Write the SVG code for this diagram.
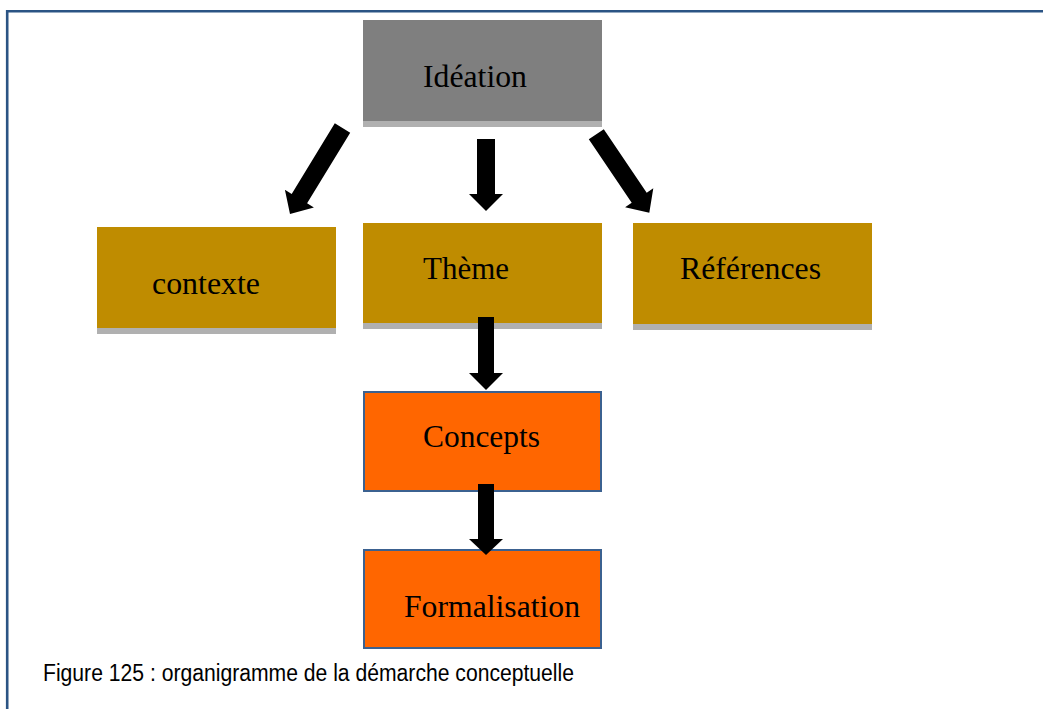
<svg xmlns="http://www.w3.org/2000/svg" width="1043" height="709" viewBox="0 0 1043 709">
<style>
.lbl{font-family:"Liberation Serif","Times New Roman",serif;font-size:31px;fill:#000}
.gold{fill:#bf8c00}
.shadow{fill:#b0b0b0}
.orange{fill:#ff6600;stroke:#3b6190;stroke-width:2}
.arrow{fill:#000}
.cap{font-family:"Liberation Sans",Arial,sans-serif;font-size:23px;fill:#000}
</style>
<rect x="0" y="0" width="1043" height="709" fill="#fff"/>
<path d="M7.2,720 V11.3 H1050" fill="none" stroke="#2b5484" stroke-width="2.6"/>
<g id="ideation">
<rect x="363" y="121" width="239" height="6" class="shadow"/>
<rect x="363" y="20" width="239" height="101" fill="#7f7f7f"/>
<text class="lbl" x="423" y="87" textLength="104" lengthAdjust="spacingAndGlyphs">Idéation</text>
</g>
<g id="contexte">
<rect x="97" y="328" width="239" height="6" class="shadow"/>
<rect x="97" y="227" width="239" height="101" class="gold"/>
<text class="lbl" x="152" y="294" textLength="108" lengthAdjust="spacingAndGlyphs">contexte</text>
</g>
<g id="theme">
<rect x="363" y="323" width="239" height="6" class="shadow"/>
<rect x="363" y="223" width="239" height="100" class="gold"/>
<text class="lbl" x="423" y="279" textLength="86" lengthAdjust="spacingAndGlyphs">Thème</text>
</g>
<g id="references">
<rect x="633" y="324" width="239" height="6" class="shadow"/>
<rect x="633" y="223" width="239" height="101" class="gold"/>
<text class="lbl" x="680" y="279" textLength="141" lengthAdjust="spacingAndGlyphs">Références</text>
</g>
<g id="concepts">
<rect x="364" y="392" width="237" height="99" class="orange"/>
<text class="lbl" x="423" y="447" textLength="117" lengthAdjust="spacingAndGlyphs">Concepts</text>
</g>
<g id="formalisation">
<rect x="364" y="550" width="237" height="98" class="orange"/>
<text class="lbl" x="404" y="617" textLength="176" lengthAdjust="spacingAndGlyphs">Formalisation</text>
</g>
<g id="connectors">
<polygon class="arrow" points="334.8,123.3 350.2,132.7 307.1,203.3 313.9,207.5 290,214 284.9,189.7 291.7,193.9"/>
<polygon class="arrow" points="477,139 495,139 495,194 503,194 486,211 469,194 477,194"/>
<polygon class="arrow" points="588.8,139.2 603.8,129.2 646.7,192.8 653.3,188.3 649.3,212.7 625.1,207.3 631.7,202.8"/>
<polygon class="arrow" points="478,317 494,317 494,373 503,373 486,390 469,373 478,373"/>
<polygon class="arrow" points="478,484 494,484 494,539 503,539 486,555 469,539 478,539"/>
</g>
<text class="cap" x="43" y="681" textLength="531" lengthAdjust="spacingAndGlyphs">Figure 125 : organigramme de la démarche conceptuelle</text>
</svg>
